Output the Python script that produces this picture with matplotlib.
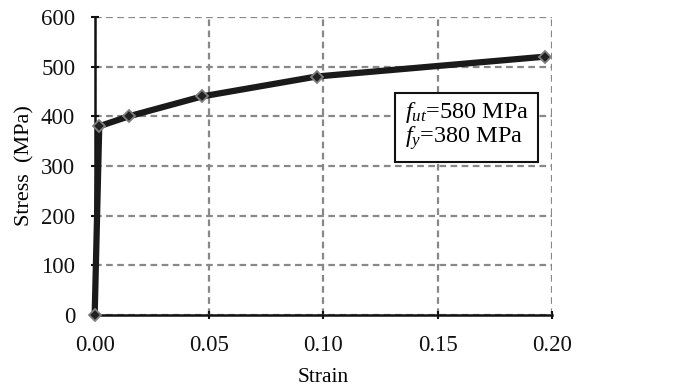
import matplotlib
matplotlib.use("Agg")
import matplotlib.pyplot as plt

# Stress-strain data
strain = [0.0, 0.002, 0.015, 0.047, 0.097, 0.197]
stress = [0.0, 380.0, 400.0, 440.0, 480.0, 520.0]

x_ticks = [0.00, 0.05, 0.10, 0.15, 0.20]
y_ticks = [0, 100, 200, 300, 400, 500, 600]

plt.rcParams["font.family"] = ["Liberation Serif", "DejaVu Serif"]
plt.rcParams["mathtext.fontset"] = "custom"
plt.rcParams["mathtext.rm"] = "Liberation Serif"
plt.rcParams["mathtext.it"] = "Liberation Serif:italic"

fig = plt.figure(figsize=(6.91, 3.92), dpi=100)
ax = fig.add_axes([0.137, 0.196, 0.662, 0.761])

ax.plot(strain, stress, color="#1a1a1a", linewidth=4.5, marker="D",
        markersize=6, markerfacecolor="#222222", markeredgecolor="#808080",
        markeredgewidth=1.3, zorder=3, clip_on=False)

ax.set_xlim(0, 0.20)
ax.set_ylim(0, 600)
ax.set_xticks(x_ticks)
ax.set_xticklabels([f"{v:.2f}" for v in x_ticks])
ax.set_yticks(y_ticks)

ax.grid(True, color="#888888", linestyle=(0, (3, 2)), linewidth=1.6)
ax.set_axisbelow(True)
for s in ["top", "right"]:
    ax.spines[s].set_visible(False)
for s in ["left", "bottom"]:
    ax.spines[s].set_color("#111111")
    ax.spines[s].set_linewidth(1.8)
    ax.spines[s].set_zorder(2)

ax.tick_params(direction="inout", length=6, width=1.5, labelsize=16.5,
               colors="#111111")
ax.tick_params(axis="x", pad=11)
ax.tick_params(axis="y", pad=11)
ax.set_xlabel("Strain", fontsize=15.5, labelpad=9)
ax.set_ylabel("Stress  (MPa)", fontsize=16, labelpad=5)

ax.text(0.1355, 380,
        "$f_{ut}$=580 MPa\n$f_{y}$=380 MPa",
        fontsize=17.5, va="center", ha="left", linespacing=0.95,
        bbox=dict(boxstyle="square,pad=0.4", facecolor="white",
                  edgecolor="#111111", linewidth=1.5))

fig.savefig("out.png", dpi=100)
